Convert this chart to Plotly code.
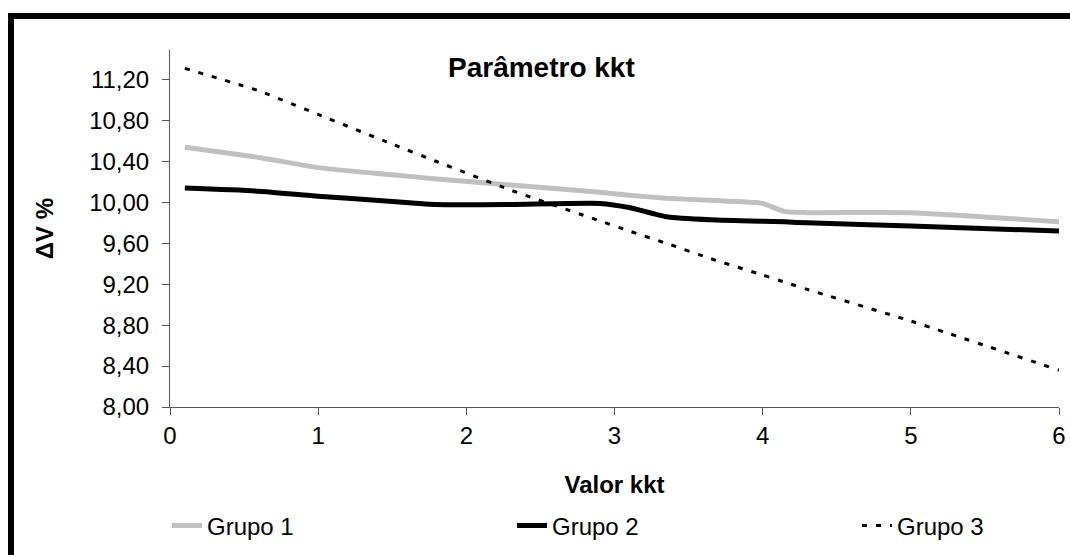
import plotly.graph_objects as go

# Data
kkt = [0.1, 0.6, 1.0, 1.5, 1.8, 2.3, 2.9, 3.1, 3.35, 3.65, 4.0, 4.15, 4.3, 5.0, 6.0]
grupo1 = [10.54, 10.44, 10.34, 10.27, 10.23, 10.17, 10.10, 10.07, 10.04, 10.02, 9.99, 9.91, 9.90, 9.90, 9.81]
grupo2 = [10.14, 10.11, 10.06, 10.01, 9.98, 9.98, 9.99, 9.95, 9.86, 9.83, 9.815, 9.81, 9.80, 9.77, 9.72]
grupo3 = [11.31, 11.09, 10.86, 10.57, 10.40, 10.12, 9.82, 9.72, 9.60, 9.45, 9.29, 9.22, 9.15, 8.84, 8.36]

y_ticks = [8.0, 8.4, 8.8, 9.2, 9.6, 10.0, 10.4, 10.8, 11.2]
x_ticks = [0, 1, 2, 3, 4, 5, 6]

FONT = "Liberation Sans, Arial, sans-serif"
FS = 24

fig = go.Figure()
fig.add_trace(go.Scatter(x=kkt, y=grupo1, mode="lines", name="Grupo 1",
                         line=dict(color="#C0C0C0", width=5, shape="spline", smoothing=0.5)))
fig.add_trace(go.Scatter(x=kkt, y=grupo2, mode="lines", name="Grupo 2",
                         line=dict(color="#000000", width=5, shape="spline", smoothing=0.5)))
fig.add_trace(go.Scatter(x=kkt, y=grupo3, mode="lines", name="Grupo 3",
                         line=dict(color="#000000", width=3, dash="5px,9px", shape="spline", smoothing=0.5)))

W, H = 1070, 555
# plot area in page pixels: x 170..1059, y 50..407
L, R = 170, W - 1059
T, B = 50, H - 407
pw, ph = W - L - R, H - T - B

def px2paper_x(px):
    return (px - L) / pw

def py2paper_y(py):
    return (H - B - py) / ph

fig.update_layout(
    width=W, height=H,
    margin=dict(l=L, r=R, t=T, b=B, autoexpand=False),
    paper_bgcolor="white", plot_bgcolor="white",
    font=dict(family=FONT, size=FS, color="black"),
    separators=",.",
    title=dict(text="<b>Parâmetro kkt</b>", font=dict(size=28, family=FONT, color="black"),
               xref="paper", x=px2paper_x(448), xanchor="left",
               yref="container", y=1 - 67 / H, yanchor="middle"),
    showlegend=True,
    legend=dict(orientation="h", x=px2paper_x(167), xanchor="left",
                y=py2paper_y(526), yanchor="middle",
                entrywidth=300, entrywidthmode="pixels",
                font=dict(size=FS, family=FONT, color="black"),
                bgcolor="rgba(0,0,0,0)", borderwidth=0),
    xaxis=dict(range=[0, 6], tickvals=x_ticks, ticktext=[str(v) for v in x_ticks],
               showgrid=False, zeroline=False, showline=True, linecolor="#555555", linewidth=1,
               ticks="outside", ticklen=7, tickcolor="#555555", tickwidth=1,
               tickfont=dict(size=FS, family=FONT, color="black"),
               title=dict(text="<b>Valor kkt</b>", standoff=28,
                          font=dict(size=FS, family=FONT, color="black"))),
    yaxis=dict(range=[8.0, 11.49], tickvals=y_ticks, tickformat=".2f",
               showgrid=False, zeroline=False, showline=True, linecolor="#555555", linewidth=1,
               ticks="outside", ticklen=7, tickcolor="#555555", tickwidth=1,
               ticklabelstandoff=8,
               tickfont=dict(size=FS, family=FONT, color="black"),
               title=dict(text="<b>ΔV %</b>", standoff=28,
                          font=dict(size=FS, family=FONT, color="black"))),
    shapes=[
        dict(type="line", xref="paper", yref="paper",
             x0=px2paper_x(8), x1=px2paper_x(1080), y0=py2paper_y(16), y1=py2paper_y(16),
             line=dict(color="black", width=6)),
        dict(type="line", xref="paper", yref="paper",
             x0=px2paper_x(11), x1=px2paper_x(11), y0=py2paper_y(13), y1=py2paper_y(570),
             line=dict(color="black", width=6)),
    ],
)

fig.write_html("out.html", config={"displayModeBar": False},
               post_script="document.body.style.margin='0px';")
